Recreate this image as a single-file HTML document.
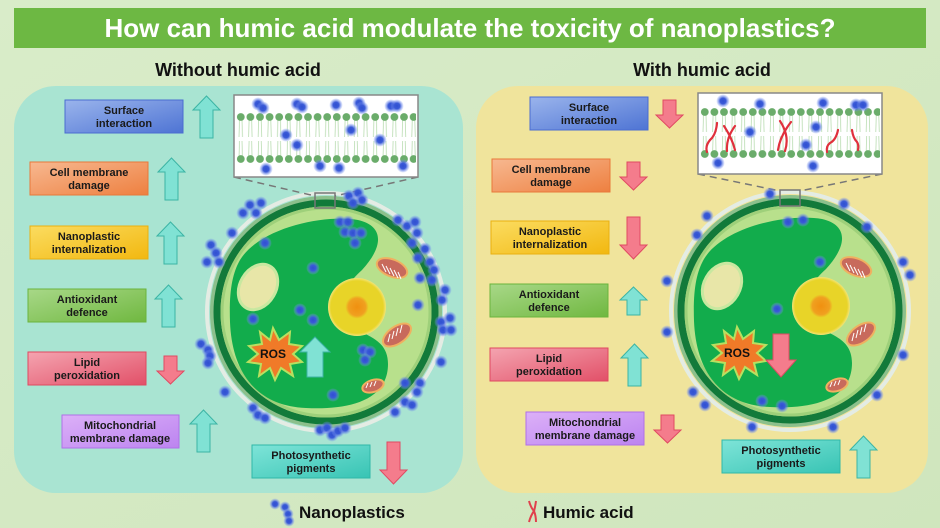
<!DOCTYPE html>
<html><head><meta charset="utf-8"><style>
html,body{margin:0;padding:0;width:940px;height:528px;overflow:hidden;background:#d5eac6}
svg{display:block}
text{font-family:"Liberation Sans",Arial,sans-serif;font-weight:bold}
.bt{font-size:11px;fill:#1a1a1a;text-anchor:middle}
</style></head><body>
<svg width="940" height="528" viewBox="0 0 940 528" xmlns="http://www.w3.org/2000/svg">
<defs>
<linearGradient id="bg" x1="0" y1="0" x2="1" y2="1"><stop offset="0" stop-color="#d9ecc9"/><stop offset="1" stop-color="#cfe6bd"/></linearGradient>
<linearGradient id="gb" x1="0" y1="0" x2="1" y2="1"><stop offset="0" stop-color="#9ab4ec"/><stop offset="1" stop-color="#4e74d4"/></linearGradient>
<linearGradient id="go" x1="0" y1="0" x2="1" y2="1"><stop offset="0" stop-color="#f7b890"/><stop offset="1" stop-color="#ee8040"/></linearGradient>
<linearGradient id="gy" x1="0" y1="0" x2="1" y2="1"><stop offset="0" stop-color="#fbdc60"/><stop offset="1" stop-color="#f2b810"/></linearGradient>
<linearGradient id="gg" x1="0" y1="0" x2="1" y2="1"><stop offset="0" stop-color="#a8d888"/><stop offset="1" stop-color="#70b840"/></linearGradient>
<linearGradient id="gp" x1="0" y1="0" x2="1" y2="1"><stop offset="0" stop-color="#f4a4b0"/><stop offset="1" stop-color="#e25068"/></linearGradient>
<linearGradient id="gv" x1="0" y1="0" x2="1" y2="1"><stop offset="0" stop-color="#dcb0f8"/><stop offset="1" stop-color="#bc84f0"/></linearGradient>
<linearGradient id="gt" x1="0" y1="0" x2="1" y2="1"><stop offset="0" stop-color="#7ee4d8"/><stop offset="1" stop-color="#38c4b4"/></linearGradient>
<radialGradient id="nuc"><stop offset="0" stop-color="#f09010"/><stop offset="0.3" stop-color="#f0a020"/><stop offset="0.4" stop-color="#e8d428"/><stop offset="0.9" stop-color="#e8d428"/><stop offset="1" stop-color="#f2e478"/></radialGradient>
<radialGradient id="np"><stop offset="0" stop-color="#3050d0"/><stop offset="0.45" stop-color="#3a5ad8"/><stop offset="1" stop-color="#7d98f0" stop-opacity="0.15"/></radialGradient>
<pattern id="heads" x="0" y="0" width="9.6" height="9" patternUnits="userSpaceOnUse">
<circle cx="4.8" cy="4.5" r="3.9" fill="#6aac6a"/></pattern>
<pattern id="tails" x="0" y="0" width="9.6" height="38" patternUnits="userSpaceOnUse">
<path d="M3.5,0 L3,17 M6,0 L6.5,17 M3.5,21 L3,38 M6,21 L6.5,38" stroke="#b8dcb0" stroke-width="0.8" fill="none"/></pattern>
<g id="up"><path d="M0,14 L13.5,0 L27,14 L20,14 L20,42 L7,42 L7,14 Z" fill="#80e2d4" stroke="#3cb4a4" stroke-width="1"/></g>
<g id="dn"><path d="M0,28 L13.5,42 L27,28 L20,28 L20,0 L7,0 L7,28 Z" fill="#f47c8c" stroke="#e04a62" stroke-width="1"/></g>
<g id="upS"><path d="M0,13 L13.5,0 L27,13 L20,13 L20,28 L7,28 L7,13 Z" fill="#80e2d4" stroke="#3cb4a4" stroke-width="1"/></g>
<g id="dnS"><path d="M0,15 L13.5,28 L27,15 L20,15 L20,0 L7,0 L7,15 Z" fill="#f47c8c" stroke="#e04a62" stroke-width="1"/></g>
<g id="cell">
<circle cx="0" cy="0" r="119" fill="none" stroke="#e4ece4" stroke-width="4"/>
<circle cx="0" cy="0" r="114" fill="none" stroke="#8cc08c" stroke-width="4"/>
<circle cx="0" cy="0" r="109" fill="#b8e08c" stroke="#127a3a" stroke-width="7"/>
<circle cx="0" cy="0" r="104" fill="none" stroke="#9ed07a" stroke-width="3"/>
<path d="M-86,-52 C-66,-85 0,-98 32,-92 C58,-86 58,-66 36,-42 C18,-26 12,-10 20,8 C30,24 62,22 62,52 C62,90 20,98 -20,96 C-70,94 -94,60 -96,10 C-97,-20 -94,-38 -86,-52 Z" fill="#12ac4c"/>
<ellipse cx="-68" cy="-25" rx="18" ry="24" transform="rotate(30 -68 -25)" fill="#e8e6a8" stroke="#c8e8a0" stroke-width="3"/>
<circle cx="31" cy="-5" r="29" fill="url(#nuc)"/>
<g fill="#c86a5c" stroke="#f0b060" stroke-width="2">
<ellipse cx="66" cy="-44" rx="16" ry="8.5" transform="rotate(22 66 -44)"/>
<ellipse cx="71" cy="23" rx="16" ry="8.5" transform="rotate(-35 71 23)"/>
<ellipse cx="47" cy="74" rx="11" ry="6" transform="rotate(-18 47 74)"/>
</g>
<g stroke="#fff" stroke-width="1" fill="none">
<path d="M56,-48 L60,-40 M60,-46 L64,-38 M64,-44 L68,-36 M68,-42 L72,-34 M72,-40 L75,-33"/>
<path d="M62,30 L64,22 M66,27 L68,19 M70,24 L72,16 M74,21 L76,13"/>
<path d="M40,76 L42,71 M44,75 L46,70 M48,74 L50,69"/>
</g>
<polygon points="-53,16 -47,28 -36,20 -37,32 -24,34 -33,42 -24,50 -36,52 -33,64 -45,56 -51,68 -56,56 -67,64 -65,52 -78,50 -68,42 -77,34 -64,32 -66,20 -56,28" fill="#f07a28" stroke="#b8e060" stroke-width="2"/>
<text x="-53" y="46" font-size="12" text-anchor="middle" fill="#111">ROS</text>
</g>
</defs>
<rect width="940" height="528" fill="url(#bg)"/>
<rect x="14" y="8" width="912" height="40" fill="#6db843"/>
<text x="470" y="37" font-size="26" fill="#fff" text-anchor="middle">How can humic acid modulate the toxicity of nanoplastics?</text>
<text x="238" y="76" font-size="18" fill="#111" text-anchor="middle">Without humic acid</text>
<text x="702" y="76" font-size="18" fill="#111" text-anchor="middle">With humic acid</text>

<rect x="14" y="86" width="449" height="407" rx="42" fill="#a9e4d2"/>
<rect x="476" y="86" width="452" height="407" rx="42" fill="#f0e49c"/>

<g>
<rect x="65" y="100" width="118" height="33" fill="url(#gb)" stroke="#4a6cd0"/><text class="bt" x="124" y="114">Surface</text><text class="bt" x="124" y="127">interaction</text>
<rect x="30" y="162" width="118" height="33" fill="url(#go)" stroke="#e8783a"/><text class="bt" x="89" y="176">Cell membrane</text><text class="bt" x="89" y="189">damage</text>
<rect x="30" y="226" width="118" height="33" fill="url(#gy)" stroke="#eab010"/><text class="bt" x="89" y="240">Nanoplastic</text><text class="bt" x="89" y="253">internalization</text>
<rect x="28" y="289" width="118" height="33" fill="url(#gg)" stroke="#6ab43c"/><text class="bt" x="87" y="303">Antioxidant</text><text class="bt" x="87" y="316">defence</text>
<rect x="28" y="352" width="118" height="33" fill="url(#gp)" stroke="#e04860"/><text class="bt" x="87" y="366">Lipid</text><text class="bt" x="87" y="379">peroxidation</text>
<rect x="62" y="415" width="117" height="33" fill="url(#gv)" stroke="#b070e8"/><text class="bt" x="120" y="429">Mitochondrial</text><text class="bt" x="120" y="442">membrane damage</text>
<rect x="252" y="445" width="118" height="33" fill="url(#gt)" stroke="#30b8a8"/><text class="bt" x="311" y="459">Photosynthetic</text><text class="bt" x="311" y="472">pigments</text>
<use href="#up" x="193" y="96"/>
<use href="#up" x="158" y="158"/>
<use href="#up" x="157" y="222"/>
<use href="#up" x="155" y="285"/>
<use href="#dnS" x="157" y="356"/>
<use href="#up" x="190" y="410"/>
<use href="#dn" x="380" y="442"/>
</g>

<g>
<rect x="530" y="97" width="118" height="33" fill="url(#gb)" stroke="#4a6cd0"/><text class="bt" x="589" y="111">Surface</text><text class="bt" x="589" y="124">interaction</text>
<rect x="492" y="159" width="118" height="33" fill="url(#go)" stroke="#e8783a"/><text class="bt" x="551" y="173">Cell membrane</text><text class="bt" x="551" y="186">damage</text>
<rect x="491" y="221" width="118" height="33" fill="url(#gy)" stroke="#eab010"/><text class="bt" x="550" y="235">Nanoplastic</text><text class="bt" x="550" y="248">internalization</text>
<rect x="490" y="284" width="118" height="33" fill="url(#gg)" stroke="#6ab43c"/><text class="bt" x="549" y="298">Antioxidant</text><text class="bt" x="549" y="311">defence</text>
<rect x="490" y="348" width="118" height="33" fill="url(#gp)" stroke="#e04860"/><text class="bt" x="549" y="362">Lipid</text><text class="bt" x="549" y="375">peroxidation</text>
<rect x="526" y="412" width="118" height="33" fill="url(#gv)" stroke="#b070e8"/><text class="bt" x="585" y="426">Mitochondrial</text><text class="bt" x="585" y="439">membrane damage</text>
<rect x="722" y="440" width="118" height="33" fill="url(#gt)" stroke="#30b8a8"/><text class="bt" x="781" y="454">Photosynthetic</text><text class="bt" x="781" y="467">pigments</text>
<use href="#dnS" x="656" y="100"/>
<use href="#dnS" x="620" y="162"/>
<use href="#dn" x="620" y="217"/>
<use href="#upS" x="620" y="287"/>
<use href="#up" x="621" y="344"/>
<use href="#dnS" x="654" y="415"/>
<use href="#up" x="850" y="436"/>
</g>

<use href="#cell" transform="translate(326,312)"/>
<use href="#cell" transform="translate(790,311)"/>
<path d="M307,377 L307,352 L300,352 L315,337 L330,352 L323,352 L323,377 Z" fill="#80e2d4" stroke="#3cb4a4"/>
<path d="M773,334 L773,360 L766,360 L781,377 L796,360 L789,360 L789,334 Z" fill="#f47c8c" stroke="#e04a62"/>

<g stroke="#777" stroke-width="1.5" fill="none">
<path d="M234,177 L315,196 M418,177 L335,196" stroke-dasharray="7,5"/>
<rect x="315" y="193" width="20" height="15"/>
<path d="M698,174 L780,191 M882,174 L800,191" stroke-dasharray="7,5"/>
<rect x="780" y="190" width="20" height="16"/>
</g>
<rect x="234" y="95" width="184" height="82" fill="#fff" stroke="#888" stroke-width="1.5"/>
<g transform="translate(236,120)"><rect x="0" y="0" width="180" height="38" fill="url(#tails)"/></g>
<g transform="translate(236,112.5)"><rect x="0" y="0" width="180" height="9" fill="url(#heads)"/></g>
<g transform="translate(236,154.5)"><rect x="0" y="0" width="180" height="9" fill="url(#heads)"/></g>
<rect x="698" y="93" width="184" height="81" fill="#fff" stroke="#888" stroke-width="1.5"/>
<g transform="translate(700,115)"><rect x="0" y="0" width="180" height="38" fill="url(#tails)"/></g>
<g transform="translate(700,107.5)"><rect x="0" y="0" width="180" height="9" fill="url(#heads)"/></g>
<g transform="translate(700,149.5)"><rect x="0" y="0" width="180" height="9" fill="url(#heads)"/></g>
<g stroke="#e0303c" stroke-width="2.2" fill="none" stroke-linecap="round">
<path d="M717,123 Q716,135 710,140 Q705,146 707,152"/>
<path d="M724,126 Q732,138 735,150 M735,126 Q726,138 727,151"/>
<path d="M780,121 Q790,136 785,151 M791,122 Q780,136 778,150"/>
<path d="M838,130 Q836,140 830,143 Q826,146 827,152"/>
<path d="M852,130 Q853,138 857,142 Q859,145 858,150"/>
</g>

<g fill="url(#np)">
<circle cx="258" cy="104" r="6.5"/><circle cx="263" cy="108" r="6.5"/><circle cx="297" cy="104" r="6.5"/><circle cx="302" cy="107" r="6.5"/><circle cx="336" cy="105" r="6.5"/><circle cx="359" cy="103" r="6.5"/><circle cx="362" cy="108" r="6.5"/><circle cx="391" cy="106" r="6.5"/><circle cx="397" cy="106" r="6.5"/><circle cx="286" cy="135" r="6.5"/><circle cx="297" cy="145" r="6.5"/><circle cx="351" cy="130" r="6.5"/><circle cx="380" cy="140" r="6.5"/><circle cx="266" cy="169" r="6.5"/><circle cx="320" cy="166" r="6.5"/><circle cx="339" cy="168" r="6.5"/><circle cx="403" cy="166" r="6.5"/>
<circle cx="250" cy="205" r="6.5"/><circle cx="256" cy="213" r="6.5"/><circle cx="243" cy="213" r="6.5"/><circle cx="261" cy="203" r="6.5"/><circle cx="232" cy="233" r="6.5"/>
<circle cx="211" cy="245" r="6.5"/><circle cx="216" cy="253" r="6.5"/><circle cx="207" cy="262" r="6.5"/><circle cx="219" cy="262" r="6.5"/>
<circle cx="349" cy="196" r="6.5"/><circle cx="358" cy="193" r="6.5"/><circle cx="362" cy="200" r="6.5"/><circle cx="353" cy="203" r="6.5"/>
<circle cx="340" cy="222" r="6.5"/><circle cx="348" cy="222" r="6.5"/><circle cx="345" cy="232" r="6.5"/><circle cx="353" cy="233" r="6.5"/><circle cx="361" cy="233" r="6.5"/><circle cx="355" cy="243" r="6.5"/><circle cx="265" cy="243" r="6.5"/>
<circle cx="398" cy="220" r="6.5"/><circle cx="407" cy="226" r="6.5"/><circle cx="415" cy="222" r="6.5"/><circle cx="417" cy="233" r="6.5"/><circle cx="412" cy="243" r="6.5"/><circle cx="425" cy="249" r="6.5"/><circle cx="418" cy="258" r="6.5"/>
<circle cx="430" cy="262" r="6.5"/><circle cx="434" cy="270" r="6.5"/><circle cx="432" cy="280" r="6.5"/><circle cx="420" cy="278" r="6.5"/>
<circle cx="445" cy="290" r="6.5"/><circle cx="442" cy="300" r="6.5"/><circle cx="441" cy="322" r="6.5"/><circle cx="450" cy="318" r="6.5"/><circle cx="443" cy="330" r="6.5"/><circle cx="451" cy="330" r="6.5"/><circle cx="418" cy="305" r="6.5"/><circle cx="441" cy="362" r="6.5"/>
<circle cx="405" cy="383" r="6.5"/><circle cx="420" cy="383" r="6.5"/><circle cx="417" cy="392" r="6.5"/><circle cx="405" cy="402" r="6.5"/><circle cx="412" cy="405" r="6.5"/><circle cx="395" cy="412" r="6.5"/>
<circle cx="201" cy="344" r="6.5"/><circle cx="208" cy="350" r="6.5"/><circle cx="210" cy="356" r="6.5"/><circle cx="208" cy="363" r="6.5"/><circle cx="225" cy="392" r="6.5"/>
<circle cx="253" cy="408" r="6.5"/><circle cx="258" cy="415" r="6.5"/><circle cx="265" cy="418" r="6.5"/>
<circle cx="320" cy="430" r="6.5"/><circle cx="327" cy="428" r="6.5"/><circle cx="332" cy="435" r="6.5"/><circle cx="338" cy="431" r="6.5"/><circle cx="345" cy="428" r="6.5"/>
<circle cx="313" cy="268" r="6.5"/><circle cx="300" cy="310" r="6.5"/><circle cx="253" cy="319" r="6.5"/><circle cx="313" cy="320" r="6.5"/><circle cx="363" cy="350" r="6.5"/><circle cx="370" cy="352" r="6.5"/><circle cx="365" cy="360" r="6.5"/><circle cx="333" cy="395" r="6.5"/>
<circle cx="723" cy="101" r="6.5"/><circle cx="760" cy="104" r="6.5"/><circle cx="823" cy="103" r="6.5"/><circle cx="856" cy="105" r="6.5"/><circle cx="863" cy="105" r="6.5"/><circle cx="750" cy="132" r="6.5"/><circle cx="816" cy="127" r="6.5"/><circle cx="806" cy="145" r="6.5"/><circle cx="718" cy="163" r="6.5"/><circle cx="813" cy="166" r="6.5"/>
<circle cx="770" cy="194" r="6.5"/><circle cx="707" cy="216" r="6.5"/><circle cx="697" cy="235" r="6.5"/><circle cx="788" cy="222" r="6.5"/><circle cx="803" cy="220" r="6.5"/><circle cx="844" cy="204" r="6.5"/><circle cx="867" cy="227" r="6.5"/><circle cx="903" cy="262" r="6.5"/><circle cx="910" cy="275" r="6.5"/><circle cx="667" cy="281" r="6.5"/><circle cx="820" cy="262" r="6.5"/><circle cx="777" cy="309" r="6.5"/><circle cx="667" cy="332" r="6.5"/><circle cx="903" cy="355" r="6.5"/><circle cx="693" cy="392" r="6.5"/><circle cx="705" cy="405" r="6.5"/><circle cx="762" cy="401" r="6.5"/><circle cx="782" cy="406" r="6.5"/><circle cx="752" cy="427" r="6.5"/><circle cx="833" cy="427" r="6.5"/><circle cx="877" cy="395" r="6.5"/>
<circle cx="275" cy="504" r="5.5"/><circle cx="285" cy="507" r="5.5"/><circle cx="288" cy="514" r="5.5"/><circle cx="289" cy="521" r="5.5"/>
</g>

<text x="299" y="518" font-size="17" fill="#111">Nanoplastics</text>
<path d="M529,501 Q531,508 534,511 Q531,515 529,522 M536,501 Q535,508 534,511 Q536,516 536,522" stroke="#e0404c" stroke-width="2" fill="none"/>
<text x="543" y="518" font-size="17" fill="#111">Humic acid</text>
</svg>
</body></html>
